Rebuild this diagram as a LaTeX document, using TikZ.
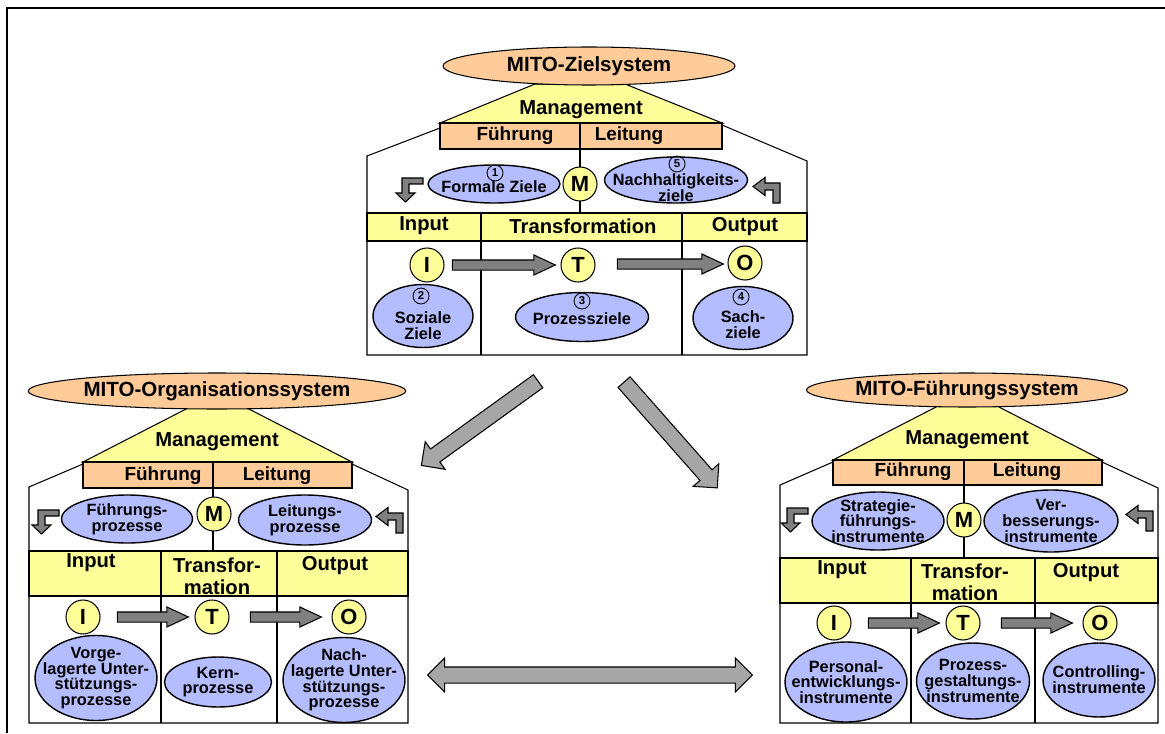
\documentclass[tikz,border=0pt]{standalone}
\usepackage{fontspec}
\setmainfont{Liberation Sans}
\usepackage{tikz}
\usetikzlibrary{shapes.geometric,shapes.arrows,calc}
\definecolor{peach}{HTML}{FFCC99}
\definecolor{lemon}{HTML}{FFFF99}
\definecolor{goalblue}{HTML}{B3BDFF}
\definecolor{blockgray}{HTML}{A6A6A6}
\definecolor{darkblock}{HTML}{808080}

\begin{document}
\begin{tikzpicture}[x=0.02cm, y=-0.02cm, line width=0.6pt,
  title/.style={draw, ellipse, fill=peach, inner sep=0pt, font=\fontsize{11.7}{13}\selectfont\bfseries},
  head/.style={font=\fontsize{11.5}{12.5}\selectfont\bfseries, align=center, inner sep=0pt},
  sub/.style={font=\fontsize{10.8}{12}\selectfont\bfseries, inner sep=0pt},
  goal/.style={draw, ellipse, fill=goalblue, inner sep=0pt, line width=0.8pt},
  gtext/.style={align=center, inner sep=0pt, font=\fontsize{9.3}{9}\selectfont\bfseries},
  numc/.style={draw, circle, minimum size=0.32cm, inner sep=0pt, line width=0.5pt, font=\fontsize{6.5}{6.5}\selectfont\bfseries},
  ltr/.style={draw, circle, fill=lemon, minimum size=0.68cm, inner sep=0pt, font=\fontsize{12.5}{12.5}\selectfont\bfseries},
  flow/.style={single arrow, draw, fill=darkblock, inner sep=0.09cm, single arrow head extend=0.1cm, single arrow tip angle=50},
  bigflow/.style={single arrow, draw, fill=blockgray, inner sep=0.15cm, single arrow head extend=0.18cm},
  turnl/.pic={\draw[fill=darkblock] (21,0) -- (0,0) -- (0,15) -- (-6,15) -- (3.5,24) -- (13,15) -- (7,15) -- (7,6) -- (21,6) -- cycle;},
  turnr/.pic={\draw[fill=darkblock] (0,0) -- (-15,0) -- (-15,-5.5) -- (-27,3.5) -- (-15,12.5) -- (-15,7) -- (-7,7) -- (-7,20) -- (0,20) -- cycle;}
]
\useasboundingbox (0,0) rectangle (1165,733);
\draw[line width=1.5pt] (7,733) -- (7,8) -- (1165,8);

% ---- MITO-Zielsystem (top) ----
\draw[fill=lemon] (535,84) -- (625,84) -- (722,123) -- (440,123) -- cycle;
\node[title, minimum width=5.84cm, minimum height=0.76cm] (zt) at (589,66) {MITO-Zielsystem};
\draw[fill=peach] (440,123) rectangle (722,149);
\draw (440,128) -- (367,156) -- (367,355) -- (807,355) -- (807,161) -- (722,125);
\draw[fill=lemon] (367,213) rectangle (807,241);
\draw (481,213) -- (481,355) (682,213) -- (682,355);
\draw (580,123) -- (580,213);
\node[head] (zmg) at (581,110) {Management};
\node[sub] (zfu) at (515,136) {Führung};
\node[sub] (zle) at (629,136) {Leitung};
\node[head] (zin) at (424,226) {Input};
\node[head] (ztr) at (583,226) {Transformation};
\node[head] (zou) at (745,227) {Output};
\node[ltr] (zM) at (580,184) {M};
\node[ltr] (zI) at (427,265) {I};
\node[ltr] (zT) at (578,265) {T};
\node[ltr] (zO) at (745,263) {O};
% goal ellipses, numbered
\node[goal, minimum width=2.64cm, minimum height=0.76cm] (z1) at (494,184) {};
\node[goal, minimum width=2.86cm, minimum height=0.92cm] (z5) at (676,180) {};
\node[goal, minimum width=2.0cm, minimum height=1.26cm] (z2) at (423,316) {};
\node[goal, minimum width=2.66cm, minimum height=0.98cm] (z3) at (582,317) {};
\node[goal, minimum width=2.0cm, minimum height=1.26cm] (z4) at (743,318) {};
\node[gtext] (z1t) at (494,187) {Formale Ziele};
\node[gtext] (z5t) at (676,188) {Nachhaltigkeits-\\ziele};
\node[gtext] (z2t) at (423,326) {Soziale\\Ziele};
\node[gtext] (z3t) at (582,319) {Prozessziele};
\node[gtext] (z4t) at (743,325) {Sach-\\ziele};
\node[numc] (z1n) at (495,173) {1};
\node[numc] (z2n) at (421,296) {2};
\node[numc] (z3n) at (582,301) {3};
\node[numc] (z4n) at (741,297) {4};
\node[numc] (z5n) at (677,164) {5};
\node[flow, minimum height=2.06cm, xshift=-0.08cm] (zit) at ($(zI)!0.5!(zT)$) {};
\node[flow, minimum height=2.12cm, xshift=0.07cm] (zto) at ($(zT)!0.5!(zO)$) {};
\pic at (402,178) {turnl};
\pic at (780,183) {turnr};

% ---- MITO-Organisationssystem (left) ----
\draw[fill=lemon] (188,408) -- (247,408) -- (352,462) -- (83,462) -- cycle;
\node[title, minimum width=6.44cm, minimum height=0.72cm] (ot) at (217,391) {MITO-Organisationssystem};
\draw[fill=peach] (83,462) rectangle (352,488);
\draw (83,464) -- (29,487) -- (29,723) -- (408,723) -- (408,490) -- (352,464);
\draw[fill=lemon] (29,551) rectangle (408,596);
\draw (161,551) -- (161,723) (277,551) -- (277,723);
\draw (213,462) -- (213,551);
\node[head] (omg) at (217,442) {Management};
\node[sub] (ofu) at (163,476) {Führung};
\node[sub] (ole) at (277,476) {Leitung};
\node[head] (oin) at (91,563) {Input};
\node[head] (otr) at (217,576) {Transfor-\\mation};
\node[head] (oou) at (335,566) {Output};
\node[ltr] (oM) at (214,514) {M};
\node[ltr] (oI) at (83,617) {I};
\node[ltr] (oT) at (212,617) {T};
\node[ltr] (oO) at (349,617) {O};
\node[goal, minimum width=2.62cm, minimum height=0.96cm] (o1) at (127,519) {};
\node[goal, minimum width=2.66cm, minimum height=1.0cm] (o2) at (305,520) {};
\node[goal, minimum width=2.44cm, minimum height=1.7cm] (o3) at (96,678) {};
\node[goal, minimum width=2.14cm, minimum height=1.0cm] (o4) at (218,682) {};
\node[goal, minimum width=2.44cm, minimum height=1.7cm] (o5) at (344,680) {};
\node[gtext] (o1t) at (o1) {Führungs-\\prozesse};
\node[gtext] (o2t) at (o2) {Leitungs-\\prozesse};
\node[gtext] (o3t) at (o3) {Vorge-\\lagerte Unter-\\stützungs-\\prozesse};
\node[gtext] (o4t) at (o4) {Kern-\\prozesse};
\node[gtext] (o5t) at (o5) {Nach-\\lagerte Unter-\\stützungs-\\prozesse};
\node[flow, minimum height=1.42cm] (oit) at ($(oI)!0.5!(oT)$) {};
\node[flow, minimum height=1.42cm] (oto) at ($(oT)!0.5!(oO)$) {};
\pic at (38,510) {turnl};
\pic at (403,513) {turnr};

% ---- MITO-Führungssystem (right) ----
\draw[fill=lemon] (938,406) -- (997,406) -- (1102,460) -- (833,460) -- cycle;
\node[title, minimum width=6.42cm, minimum height=0.68cm] (ft) at (967,390) {MITO-Führungssystem};
\draw[fill=peach] (833,460) rectangle (1102,485);
\draw (833,462) -- (780,485) -- (780,723) -- (1158,723) -- (1158,488) -- (1102,462);
\draw[fill=lemon] (780,558) rectangle (1158,603);
\draw (911,558) -- (911,723) (1035,558) -- (1035,723);
\draw (964,460) -- (964,558);
\node[head] (fmg) at (967,440) {Management};
\node[sub] (ffu) at (913,472) {Führung};
\node[sub] (fle) at (1027,472) {Leitung};
\node[head] (fin) at (842,570) {Input};
\node[head] (ftr) at (965,582) {Transfor-\\mation};
\node[head] (fou) at (1086,573) {Output};
\node[ltr] (fM) at (964,520) {M};
\node[ltr] (fI) at (834,623) {I};
\node[ltr] (fT) at (963,623) {T};
\node[ltr] (fO) at (1100,623) {O};
\node[goal, minimum width=2.64cm, minimum height=1.16cm] (f1) at (878,521) {};
\node[goal, minimum width=2.68cm, minimum height=1.24cm] (f2) at (1051,521) {};
\node[goal, minimum width=2.44cm, minimum height=1.6cm] (f3) at (846,682) {};
\node[goal, minimum width=2.26cm, minimum height=1.52cm] (f4) at (973,681) {};
\node[goal, minimum width=2.24cm, minimum height=1.48cm] (f5) at (1099,680) {};
\node[gtext] (f1t) at (f1) {Strategie-\\führungs-\\instrumente};
\node[gtext] (f2t) at (f2) {Ver-\\besserungs-\\instrumente};
\node[gtext] (f3t) at (f3) {Personal-\\entwicklungs-\\instrumente};
\node[gtext] (f4t) at (f4) {Prozess-\\gestaltungs-\\instrumente};
\node[gtext] (f5t) at (f5) {Controlling-\\instrumente};
\node[flow, minimum height=1.42cm] (fit) at ($(fI)!0.5!(fT)$) {};
\node[flow, minimum height=1.42cm] (fto) at ($(fT)!0.5!(fO)$) {};
\pic at (787,508) {turnl};
\pic at (1153,511) {turnr};

% block arrows between the three systems
\node[bigflow, minimum height=2.88cm, rotate=215.8] (toorg) at (483,421) {};
\node[bigflow, minimum height=2.82cm, rotate=-48.6] (tofs) at (668,432) {};
\node[double arrow, draw, fill=blockgray, inner sep=0.15cm, double arrow head extend=0.18cm, minimum height=6.5cm] (link) at (590,675) {};
\end{tikzpicture}
\end{document}
